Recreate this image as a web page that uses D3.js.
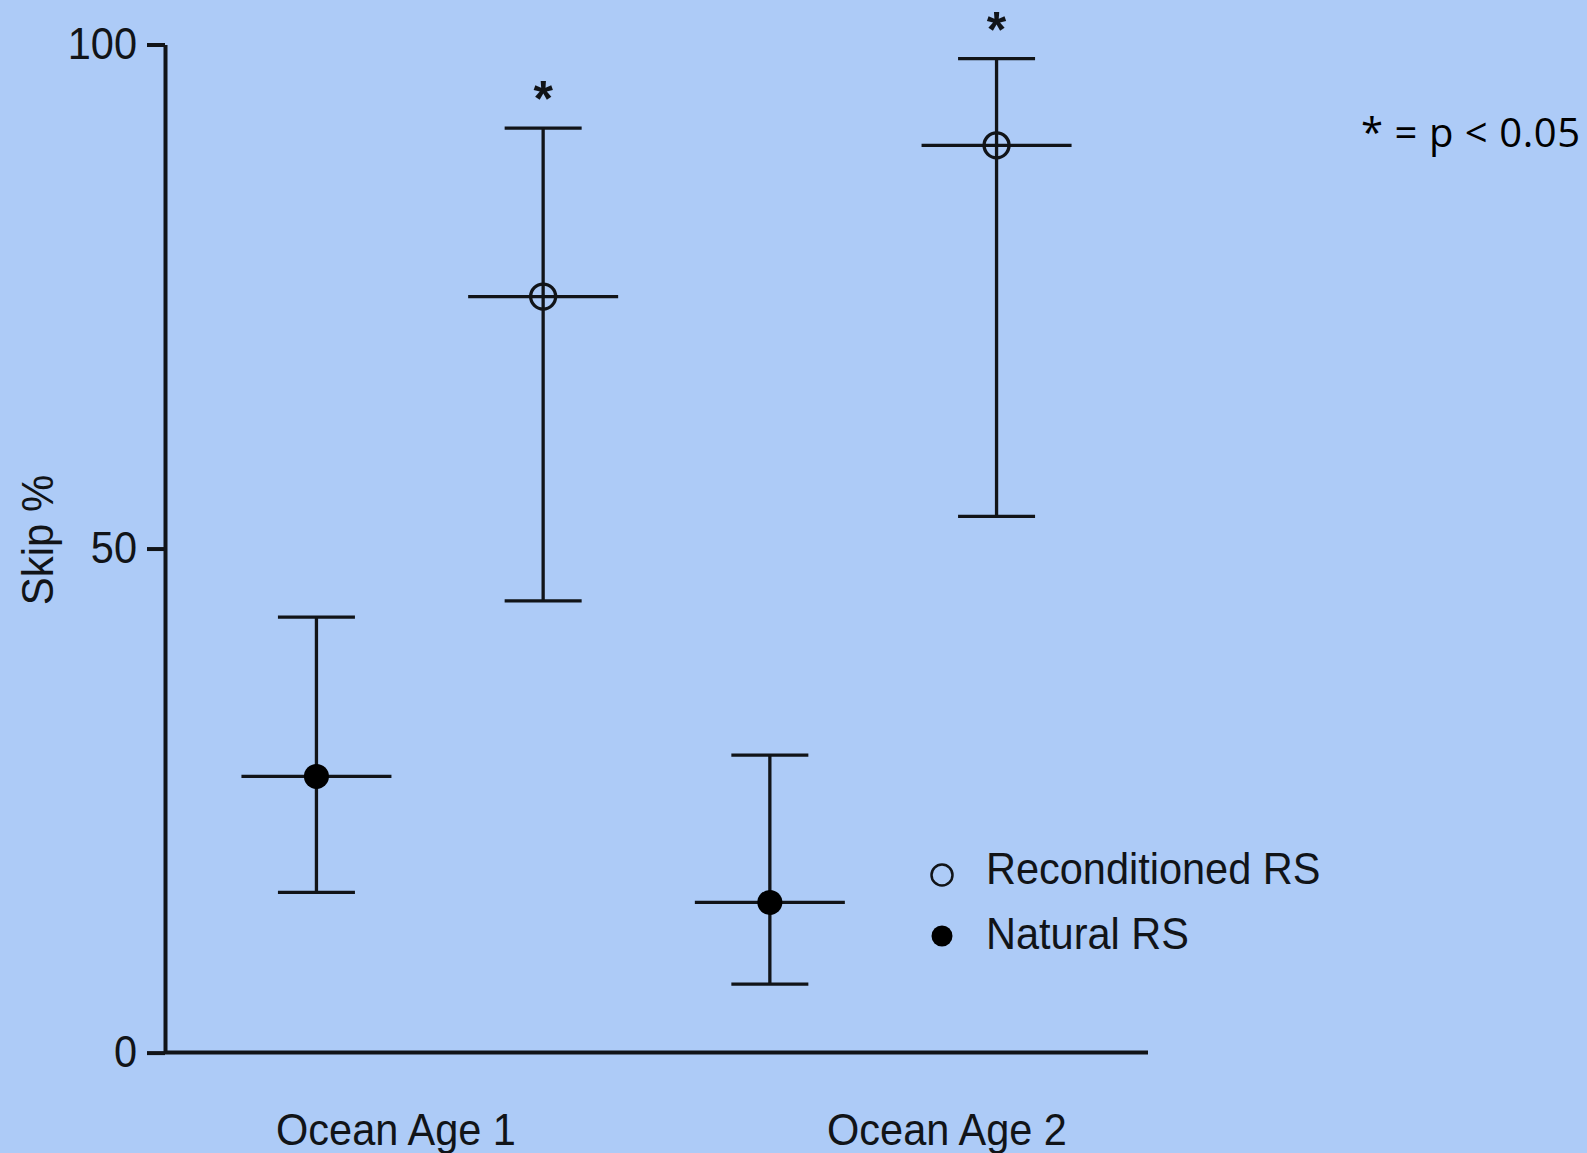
<!DOCTYPE html>
<html>
<head>
<meta charset="utf-8">
<script src="https://cdn.jsdelivr.net/npm/d3@7"></script>
<style>
  html, body { margin: 0; padding: 0; background: #adcbf7; }
  svg { display: block; }
</style>
</head>
<body>
<svg id="chart" width="1587" height="1153"></svg>
<script>
// ---- data ----
const categories = ["Ocean Age 1", "Ocean Age 2"];
const seriesNames = ["Reconditioned RS", "Natural RS"];
const naturalMean  = [27.4, 14.9];
const naturalLower = [15.9, 6.8];
const naturalUpper = [43.2, 29.5];
const reconMean    = [75.0, 90.0];
const reconLower   = [44.8, 53.2];
const reconUpper   = [91.7, 98.6];
const reconSignificant = [true, true];
const yTicks = [0, 50, 100];
const yLabel = "Skip %";
const noteText = "* = p < 0.05";

// ---- build rows ----
const rows = [];
categories.forEach((c, i) => {
  rows.push({cat: i, series: "Natural RS", slot: i * 2, mean: naturalMean[i], lo: naturalLower[i], hi: naturalUpper[i], sig: false});
  rows.push({cat: i, series: "Reconditioned RS", slot: i * 2 + 1, mean: reconMean[i], lo: reconLower[i], hi: reconUpper[i], sig: reconSignificant[i]});
});

const svg = d3.select("#chart");
const ink = "#111418";
const fontMain = "'Liberation Sans', Arial, sans-serif";
const fontSize = "41.5px";
const stretch = "scale(1,1.06)";

const x = d3.scaleLinear().domain([-0.668, 3.668]).range([165, 1148]);
const y = d3.scaleLinear().domain([0, 100]).range([1052.6, 44.5]);
const xLabel = d3.scalePoint().domain(categories).range([396, 947]);

// y axis
const yAxis = svg.append("g")
  .attr("transform", `translate(${x(-0.668)},0)`)
  .call(d3.axisLeft(y).tickValues(yTicks).tickSize(18).tickSizeOuter(0).tickPadding(10).tickFormat(d3.format("d")));
yAxis.select(".domain").attr("stroke", ink).attr("stroke-width", 4);
yAxis.selectAll(".tick line").attr("stroke", ink).attr("stroke-width", 4);
yAxis.selectAll(".tick text")
  .attr("fill", ink)
  .style("font-family", fontMain)
  .style("font-size", fontSize)
  .attr("transform", stretch);

// x axis line
svg.append("line")
  .attr("x1", x(-0.668)).attr("x2", x(3.668))
  .attr("y1", y(0)).attr("y2", y(0))
  .attr("stroke", ink).attr("stroke-width", 4);

// category labels
svg.selectAll(".cat").data(categories).enter().append("text")
  .attr("class", "cat")
  .attr("transform", d => `translate(${xLabel(d)},1145) ${stretch}`)
  .attr("text-anchor", "middle")
  .attr("fill", ink)
  .style("font-family", fontMain)
  .style("font-size", fontSize)
  .text(d => d);

// y label
svg.append("text")
  .attr("transform", `translate(53,540) rotate(-90) ${stretch}`)
  .attr("text-anchor", "middle")
  .attr("fill", ink)
  .style("font-family", fontMain)
  .style("font-size", "42px")
  .text(yLabel);

// error bars
const g = svg.append("g");
const meanHalf = 75, capHalf = 38.5, bw = 3.3;
rows.forEach(d => {
  const cx = x(d.slot);
  g.append("line").attr("x1", cx).attr("x2", cx).attr("y1", y(d.hi)).attr("y2", y(d.lo))
    .attr("stroke", ink).attr("stroke-width", bw);
  g.append("line").attr("x1", cx - capHalf).attr("x2", cx + capHalf).attr("y1", y(d.hi)).attr("y2", y(d.hi))
    .attr("stroke", ink).attr("stroke-width", bw);
  g.append("line").attr("x1", cx - capHalf).attr("x2", cx + capHalf).attr("y1", y(d.lo)).attr("y2", y(d.lo))
    .attr("stroke", ink).attr("stroke-width", bw);
  g.append("line").attr("x1", cx - meanHalf).attr("x2", cx + meanHalf).attr("y1", y(d.mean)).attr("y2", y(d.mean))
    .attr("stroke", ink).attr("stroke-width", bw);
});

// markers
rows.forEach(d => {
  const cx = x(d.slot);
  if (d.series === "Natural RS") {
    g.append("circle").attr("cx", cx).attr("cy", y(d.mean)).attr("r", 12.5).attr("fill", "#000");
  } else {
    g.append("circle").attr("cx", cx).attr("cy", y(d.mean)).attr("r", 12.5)
      .attr("fill", "none").attr("stroke", ink).attr("stroke-width", 3.3);
  }
});

// significance stars
rows.filter(d => d.sig).forEach(d => {
  g.append("text")
    .attr("x", x(d.slot)).attr("y", y(d.hi) - 12)
    .attr("text-anchor", "middle")
    .attr("fill", ink)
    .style("font-family", fontMain)
    .style("font-weight", "bold")
    .style("font-size", "50px")
    .text("*");
});

// legend
const legend = svg.append("g");
const legendItems = [
  {name: seriesNames[0], cy: 875, open: true, baseline: 884},
  {name: seriesNames[1], cy: 936, open: false, baseline: 949}
];
legendItems.forEach(it => {
  if (it.open) {
    legend.append("circle").attr("cx", 942).attr("cy", it.cy).attr("r", 10.5)
      .attr("fill", "none").attr("stroke", ink).attr("stroke-width", 2.5);
  } else {
    legend.append("circle").attr("cx", 942).attr("cy", it.cy).attr("r", 10.5).attr("fill", "#000");
  }
  legend.append("text")
    .attr("transform", `translate(986,${it.baseline}) ${stretch}`)
    .attr("fill", ink)
    .style("font-family", fontMain)
    .style("font-size", fontSize)
    .text(it.name);
});

// note
svg.append("text")
  .attr("x", 1361).attr("y", 147)
  .attr("fill", "#000")
  .attr("textLength", 219)
  .attr("lengthAdjust", "spacing")
  .style("font-family", "'Open Sans', sans-serif")
  .style("font-size", "40px")
  .text(noteText);
</script>
</body>
</html>
